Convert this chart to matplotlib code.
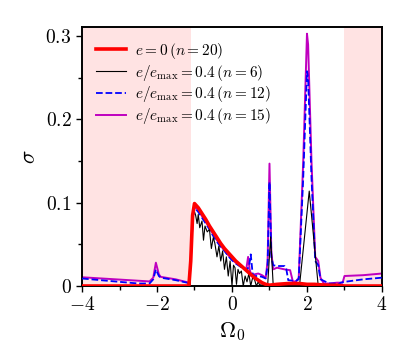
import matplotlib
matplotlib.use("Agg")
import matplotlib.pyplot as plt
from matplotlib.ticker import MultipleLocator, FuncFormatter

plt.rcParams['mathtext.fontset'] = 'cm'
plt.rcParams['font.family'] = 'serif'
plt.rcParams['font.serif'] = ['DejaVu Serif']

# e = 0, n = 20
x_red = [-4, -1.15, -1.1, -1.05, -1.0, -0.9, -0.8, -0.7, -0.6, -0.5, -0.4, -0.3, -0.2, -0.1,
         0.0, 0.1, 0.2, 0.3, 0.4, 0.5, 0.6, 0.7, 0.8, 0.9, 1.0, 1.2, 1.5, 1.8, 2.0, 2.2, 2.5,
         2.8, 3.0, 4.0]
y_red = [0, 0, 0.03, 0.085, 0.099, 0.094, 0.087, 0.080, 0.072, 0.065, 0.058, 0.051, 0.045, 0.040,
         0.035, 0.030, 0.026, 0.022, 0.018, 0.014, 0.010, 0.007, 0.004, 0.002, 0.001, 0.002, 0.003,
         0.003, 0.002, 0.002, 0.001, 0.001, 0.0, 0.0]

# e/emax = 0.4, n = 6
x_blk = [-4, -1.12, -1.07, -1.02, -0.97, -0.93, -0.9, -0.86, -0.8, -0.76, -0.72, -0.66, -0.6,
         -0.55, -0.5, -0.46, -0.4, -0.35, -0.3, -0.25, -0.2, -0.15, -0.1, -0.05, 0.0, 0.04, 0.08,
         0.12, 0.16, 0.2, 0.25, 0.3, 0.35, 0.4, 0.45, 0.5, 0.55, 0.6, 0.65, 0.7, 0.75, 0.8, 0.85,
         0.95, 1.03, 1.1, 1.8, 2.06, 2.3, 4.0]
y_blk = [0, 0, 0.07, 0.092, 0.085, 0.075, 0.086, 0.07, 0.078, 0.055, 0.072, 0.065, 0.068,
         0.045, 0.058, 0.052, 0.035, 0.048, 0.03, 0.042, 0.02, 0.035, 0.012, 0.03, 0.0, 0.025, 0.022,
         0.002, 0.02, 0.015, 0.018, 0.0, 0.012, 0.005, 0.015, 0.0, 0.01, 0.008, 0.0, 0.005, 0.0, 0.004,
         0.0, 0.0, 0.059, 0.0, 0.0, 0.114, 0.0, 0.0]

# e/emax = 0.4, n = 12
x_blu = [-4, -3.5, -3.0, -2.5, -2.2, -2.1, -2.03, -1.95, -1.9, -1.5, -1.2, -1.15, -1.1, -1.05,
         -1.0, -0.9, -0.8, -0.7, -0.6, -0.5, -0.4, -0.3, -0.2, -0.1, 0.0, 0.1, 0.2, 0.3, 0.4, 0.46,
         0.5, 0.55, 0.6, 0.7, 0.8, 0.9, 0.95, 1.0, 1.05, 1.1, 1.2, 1.4, 1.45, 1.5, 1.7, 1.78, 1.9,
         2.0, 2.03, 2.12, 2.22, 2.3, 2.36, 2.6, 2.75, 2.8, 2.9, 3.0, 3.5, 4.0]
y_blu = [0.009, 0.007, 0.005, 0.003, 0.003, 0.008, 0.02, 0.012, 0.010, 0.007, 0.004, 0.003, 0.03,
         0.078, 0.094, 0.089, 0.082, 0.075, 0.068, 0.060, 0.053, 0.047, 0.042, 0.036, 0.031, 0.027,
         0.024, 0.021, 0.019, 0.025, 0.038, 0.015, 0.012, 0.012, 0.011, 0.009, 0.025, 0.125, 0.035,
         0.025, 0.024, 0.024, 0.02, 0.007, 0.006, 0.008, 0.13, 0.258, 0.25, 0.13, 0.03, 0.025, 0.008,
         0.003, 0.003, 0.001, 0.004, 0.005, 0.008, 0.010]

# e/emax = 0.4, n = 15
x_mag = [-4, -2.2, -2.1, -2.03, -1.95, -1.9, -1.5, -1.15, -1.1, -1.05, -1.0, -0.9, -0.8, -0.7,
         -0.6, -0.5, -0.4, -0.3, -0.2, -0.1, 0.0, 0.1, 0.2, 0.3, 0.38, 0.43, 0.47, 0.52, 0.6, 0.7,
         0.8, 0.9, 0.95, 1.0, 1.05, 1.1, 1.2, 1.4, 1.55, 1.62, 1.7, 1.78, 1.9, 2.0, 2.03, 2.12, 2.22,
         2.3, 2.36, 2.45, 2.6, 2.8, 2.95, 3.0, 3.5, 4.0]
y_mag = [0.0105, 0.0055, 0.010, 0.028, 0.014, 0.011, 0.008, 0.004, 0.03, 0.08, 0.096, 0.091,
         0.084, 0.077, 0.07, 0.062, 0.055, 0.048, 0.043, 0.037, 0.032, 0.028, 0.025, 0.022, 0.02,
         0.035, 0.02, 0.012, 0.014, 0.015, 0.013, 0.01, 0.03, 0.147, 0.04, 0.02, 0.022, 0.02, 0.019,
         0.006, 0.005, 0.01, 0.15, 0.303, 0.29, 0.15, 0.035, 0.03, 0.01, 0.003, 0.003, 0.004, 0.004,
         0.012, 0.013, 0.015]

labels = [r'$e = 0\,(n = 20)$',
          r'$e/e_{\rm max} = 0.4\,(n = 6)$',
          r'$e/e_{\rm max} = 0.4\,(n = 12)$',
          r'$e/e_{\rm max} = 0.4\,(n = 15)$']

fig = plt.figure(figsize=(4.07, 3.49), dpi=100)
ax = fig.add_axes([0.2015, 0.1805, 0.737, 0.742])

ax.axvspan(-4, -1.1, color='red', alpha=0.11, lw=0)
ax.axvspan(3, 4, color='red', alpha=0.11, lw=0)

ax.plot(x_red, y_red, color='red', lw=2.6, label=labels[0], zorder=5)
ax.plot(x_blk, y_blk, color='black', lw=0.8, label=labels[1], zorder=4)
ax.plot(x_blu, y_blu, color='blue', lw=1.3, ls='--', label=labels[2], zorder=3)
ax.plot(x_mag, y_mag, color='m', lw=1.4, label=labels[3], zorder=2)

ax.set_xlim(-4, 4)
ax.set_ylim(0, 0.311)
ax.xaxis.set_major_locator(MultipleLocator(2))
ax.xaxis.set_minor_locator(MultipleLocator(1))
ax.yaxis.set_major_locator(MultipleLocator(0.1))
ax.yaxis.set_minor_locator(MultipleLocator(0.05))
fmt = FuncFormatter(lambda v, p: r'$%g$' % round(v, 3))
ax.xaxis.set_major_formatter(fmt)
ax.yaxis.set_major_formatter(fmt)
ax.tick_params(which='both', direction='out', labelsize=14, width=1)
ax.tick_params(which='major', length=4)
ax.tick_params(which='minor', length=3)
for s in ax.spines.values():
    s.set_linewidth(1.4)

ax.set_xlabel(r'$\Omega_0$', fontsize=16)
ax.set_ylabel(r'$\sigma$', fontsize=16)

ax.legend(loc='upper left', frameon=False, fontsize=11, handlelength=2.0,
          handletextpad=0.6, labelspacing=0.12, borderaxespad=0.5)

fig.savefig('out.png', dpi=100)
